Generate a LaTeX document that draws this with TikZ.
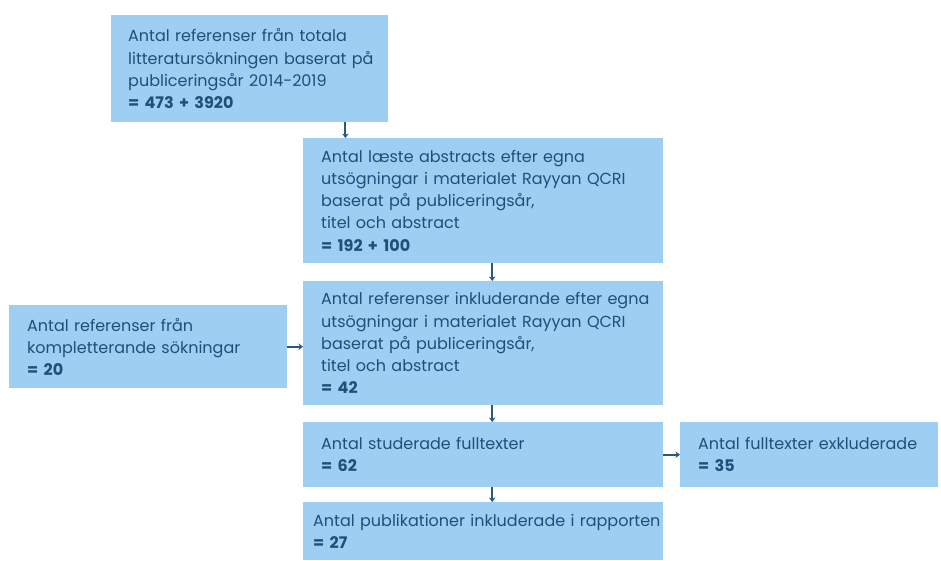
\documentclass[tikz,border=0pt]{standalone}
\usepackage{fontspec}
\setmainfont{Poppins}
\usepackage{tikz}
\usepackage{xcolor}
\usetikzlibrary{arrows.meta, positioning, calc}

\definecolor{boxblue}{RGB}{158,206,242}
\definecolor{inkblue}{RGB}{34,78,122}
\definecolor{arrowblue}{RGB}{38,88,138}

\begin{document}
\begin{tikzpicture}[
    x=1pt, y=-1pt,
    box/.style={rectangle, fill=boxblue, draw=none, anchor=north west, align=left, inner xsep=0pt, inner ysep=0pt, text=inkblue, font=\fontsize{16}{22.2}\selectfont, execute at begin node={\leftskip=#1\relax}},
    box/.default=18pt,
    arrow/.style={-{Stealth[length=4.5pt, width=6.5pt]}, line width=1.9pt, arrowblue}
]

% canvas
\useasboundingbox (0,0) rectangle (941,560);

% Main column
\node[box=17pt, text width=277pt, minimum height=107pt] (total) at (111,15) {Antal referenser från totala\\litteratursökningen baserat på\\publiceringsår 2014-2019\\\textbf{= 473 + 3920}};
\node[box, text width=360pt, minimum height=125pt] (abstracts) at (303,138) {Antal læste abstracts efter egna\\utsögningar i materialet Rayyan QCRI\\baserat på publiceringsår,\\titel och abstract\\\textbf{= 192 + 100}};
\node[box, text width=360pt, minimum height=124pt] (included) at (303,281) {Antal referenser inkluderande efter egna\\utsögningar i materialet Rayyan QCRI\\baserat på publiceringsår,\\titel och abstract\\\textbf{= 42}};
\node[box, text width=360pt, minimum height=65pt] (fulltext) at (303,422) {Antal studerade fulltexter\\\textbf{= 62}};
\node[box=10pt, text width=360pt, minimum height=58pt] (report) at (303,502) {Antal publikationer inkluderade i rapporten\\\textbf{= 27}};

% Side boxes
\node[box, text width=278pt, minimum height=83pt] (extra) at (9,305) {Antal referenser från\\kompletterande sökningar\\\textbf{= 20}};
\node[box, text width=258pt, minimum height=65pt] (excluded) at (680,422) {Antal fulltexter exkluderade\\\textbf{= 35}};

% Arrows
\draw[arrow] ([xshift=-43pt]total.south east) -- ([xshift=-43pt]total.south east |- abstracts.north);
\draw[arrow] ([xshift=9pt]abstracts.south) -- ([xshift=9pt]included.north);
\draw[arrow] ([xshift=9pt]included.south) -- ([xshift=9pt]fulltext.north);
\draw[arrow] ([xshift=9pt]fulltext.south) -- ([xshift=9pt]fulltext.south |- report.north);
\draw[arrow] (extra.east) -- (extra.east -| included.west);
\draw[arrow] (fulltext.east) -- (excluded.west);

\end{tikzpicture}
\end{document}
